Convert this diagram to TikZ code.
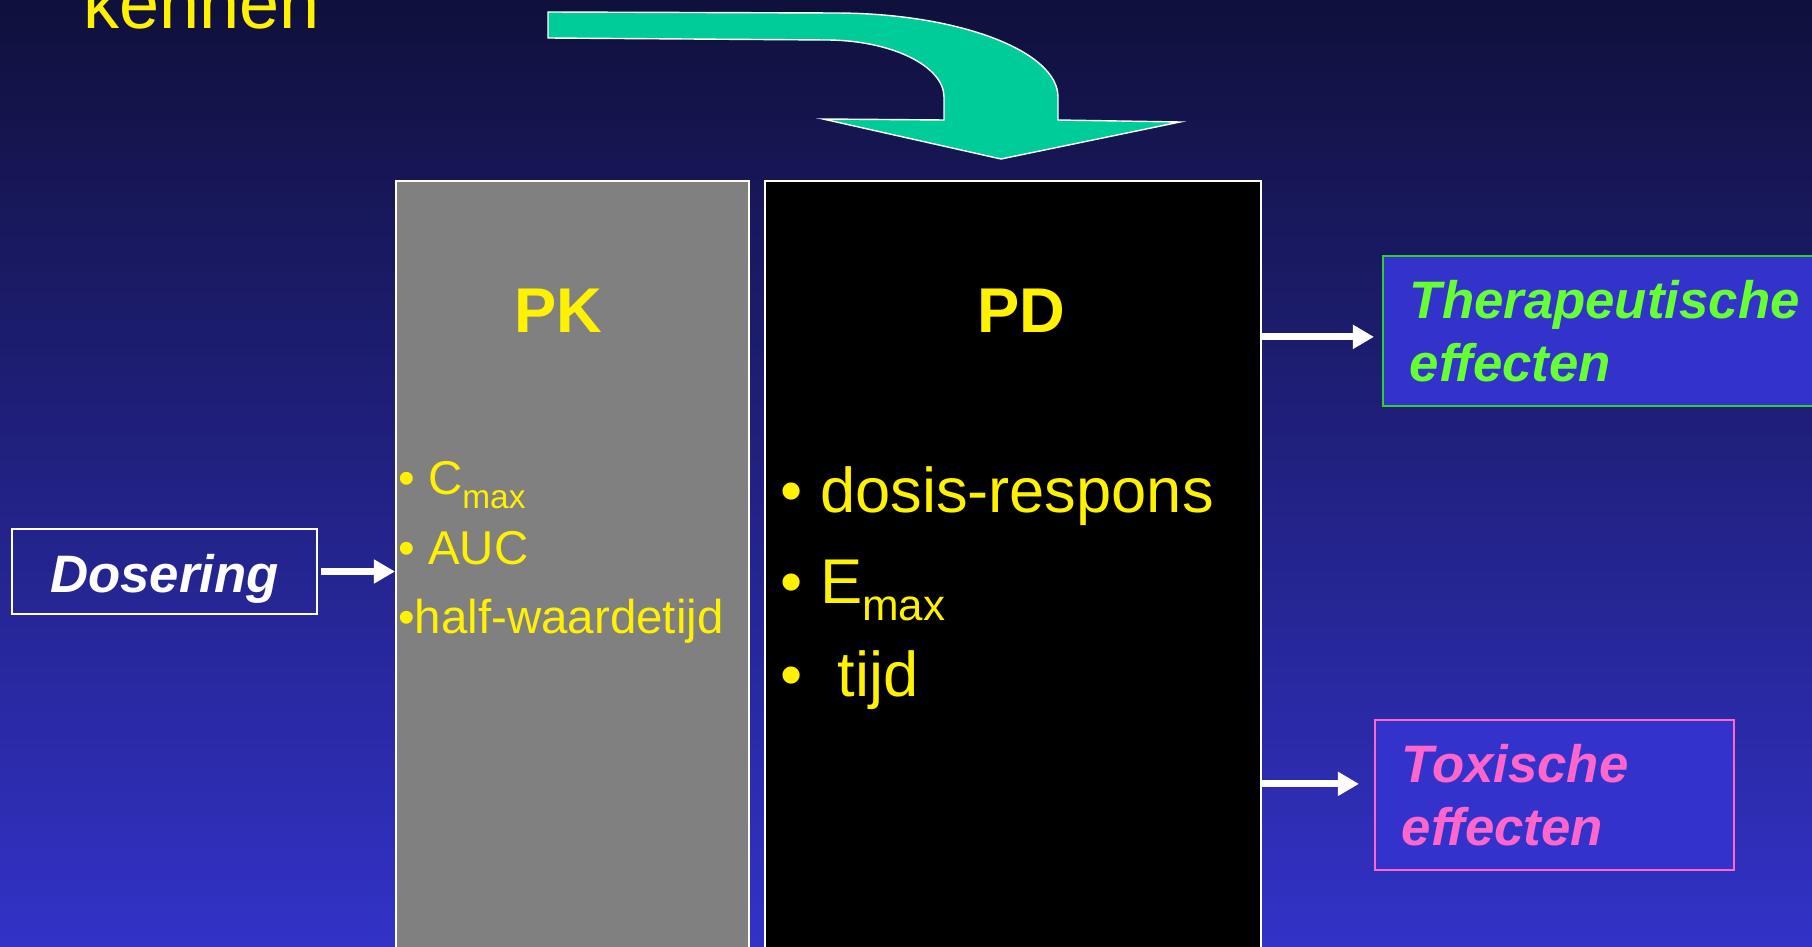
\documentclass[tikz,border=0pt]{standalone}
\usepackage{fontspec}
\setmainfont{Liberation Sans}
\usetikzlibrary{arrows.meta,positioning,calc}
\definecolor{achtergrondboven}{RGB}{16,16,60}
\definecolor{achtergrondonder}{RGB}{50,50,200}
\definecolor{pkgrijs}{HTML}{808080}
\definecolor{effectblauw}{HTML}{3333CC}
\definecolor{therapgroen}{HTML}{66FF33}
\definecolor{therapkader}{HTML}{33CC33}
\definecolor{toxroze}{HTML}{FF66CC}
\definecolor{pijlgroen}{HTML}{00CC99}
\newcommand{\laag}[3]{\raisebox{-#2}{\fontsize{#1}{#1}\selectfont #3}}
\tikzset{
  pkpd/kolom/.style={draw=white, line width=1pt, anchor=north west, inner sep=0pt, minimum height=160mm},
  pkpd/titel/.style={text=yellow, font=\fontsize{36}{43}\selectfont\bfseries, anchor=base, inner sep=0pt},
  pkpd/punt/.style={text=yellow, anchor=base west, inner sep=0pt},
  pkpd/klein/.style={pkpd/punt, font=\fontsize{27}{32}\selectfont},
  pkpd/groot/.style={pkpd/punt, font=\fontsize{36}{43}\selectfont},
  pkpd/effect/.style={rectangle, fill=effectblauw, line width=1pt, anchor=north west, minimum height=30mm, text width=#1, align=left, inner xsep=5.4mm, inner ysep=0pt, font=\fontsize{30}{36}\selectfont\bfseries\itshape},
  pkpd/pijl/.style={white, line width=4pt, -{Triangle[length=12pt, width=13pt]}},
}

\begin{document}
\begin{tikzpicture}[x=0.2mm, y=-0.2mm]
  \clip (0,0) rectangle (1812,947);
  \shade[top color=achtergrondboven, bottom color=achtergrondonder] (0,0) rectangle (1812,947);

  \node[anchor=base west, inner sep=0pt, text=yellow, font=\fontsize{41}{49}\selectfont] (kennen) at (83,29) {kennen};

  % gebogen pijl
  \filldraw[fill=pijlgroen, draw=white, line width=0.8pt]
    (548,12) -- (835,13) .. controls (958,13) and (1058,51) .. (1058,97)
    -- (1058,120) -- (1180,122) -- (1001,159) -- (823,119) -- (944,120)
    -- (944,97) .. controls (944,66) and (891,40) .. (826,40) -- (548,38) -- cycle;

  \node[pkpd/kolom, fill=pkgrijs, minimum width=70.6mm] (pk) at (395,180) {};
  \node[pkpd/kolom, fill=black, minimum width=99.2mm] (pd) at (764,180) {};

  \node[pkpd/titel] (pktitel) at (558,333) {PK};
  \node[pkpd/titel] (pdtitel) at (1021,333) {PD};

  \node[pkpd/klein] (cmax) at (398,494) {• C\laag{19}{8pt}{max}};
  \node[pkpd/klein] (auc) at (398,564) {• AUC};
  \node[pkpd/klein] (halfwaarde) at (398,633) {•half-waardetijd};

  \node[pkpd/groot] (dosisrespons) at (780,512) {• dosis-respons};
  \node[pkpd/groot] (emax) at (780,603) {• E\laag{25}{10pt}{max}};
  \node[pkpd/groot] (tijd) at (780,696) {•\ \ tijd};

  \node[draw=white, line width=1pt, minimum width=61mm, minimum height=17mm, inner sep=0pt,
        text height=30pt, text depth=6pt,
        text=white, font=\fontsize{30}{36}\selectfont\bfseries\itshape] (dosering) at (164.5,571.5) {Dosering};

  \node[pkpd/effect=78.8mm, draw=therapkader, text=therapgroen] (therap) at (1382,255) {Therapeutische\\effecten};
  \node[pkpd/effect=61mm, draw=toxroze, text=toxroze] (toxisch) at (1374,719) {Toxische\\effecten};

  \draw[pkpd/pijl, shorten <=0.6mm] (dosering.east) -- (dosering.east -| pk.west);
  \coordinate (therapin) at ([yshift=-1.2mm]therap.west);
  \draw[pkpd/pijl, shorten >=1.6mm] (therapin -| pd.east) -- (therapin);
  \coordinate (toxin) at ([yshift=2.2mm]toxisch.west);
  \draw[pkpd/pijl, shorten >=3mm] (toxin -| pd.east) -- (toxin);
\end{tikzpicture}
\end{document}
